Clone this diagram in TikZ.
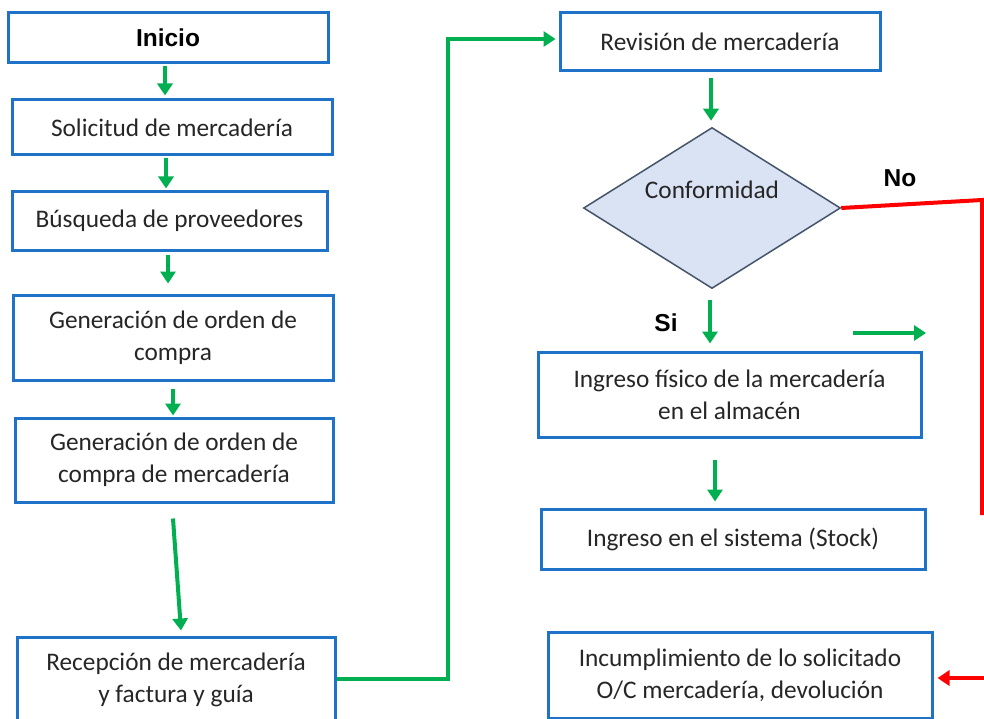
\documentclass[tikz,border=0pt]{standalone}
\usepackage{fontspec}
\setmainfont{Carlito}
\newfontfamily\arialfont{Liberation Sans}
\usetikzlibrary{arrows.meta,shapes.geometric}
\definecolor{boxblue}{HTML}{1E73C8}
\definecolor{flowgreen}{HTML}{00B050}
\definecolor{flowred}{HTML}{FF0000}
\definecolor{diafill}{HTML}{DAE3F3}
\definecolor{diaedge}{HTML}{44546A}
\definecolor{txt}{HTML}{262626}
\begin{document}
\begin{tikzpicture}[x=1pt,y=-1pt,
  bodyfont/.style={font=\fontsize{25.3}{32}\selectfont, text=txt},
  boldfont/.style={font=\arialfont\bfseries\fontsize{24.5}{30}\selectfont, text=black},
  procbox/.style={draw=boxblue, line width=3pt, fill=white, rectangle, align=center, inner sep=0pt, bodyfont},
  decision/.style={draw=diaedge, line width=1.5pt, fill=diafill, diamond, inner sep=0pt},
  garrow/.style={draw=flowgreen, line width=4pt, -{Triangle[width=15pt,length=12pt]}},
  rline/.style={draw=flowred, line width=4pt},
  rarrow/.style={draw=flowred, line width=4pt, -{Triangle[width=15pt,length=12pt]}}
]
\useasboundingbox[fill=white] (0,0) rectangle (984,719);

% left column
\node[procbox, minimum width=320pt, minimum height=50pt, boldfont] (ini) at (168,38) {Inicio};
\node[procbox, minimum width=320pt, minimum height=55pt] (sol) at (172,127.5) {Solicitud de mercadería};
\node[procbox, minimum width=315pt, minimum height=58pt] (bus) at (169.5,221) {Búsqueda de proveedores};
\node[procbox, minimum width=320pt, minimum height=85pt] (gen) at (173,337.5) {Generación de orden de\\compra};
\node[procbox, minimum width=318pt, minimum height=84pt] (gen2) at (174,460) {Generación de orden de\\compra de mercadería};
\node[procbox, minimum width=318pt, minimum height=86pt] (rec) at (176,680) {Recepción de mercadería\\y factura y guía};

% right column
\node[procbox, minimum width=320pt, minimum height=58pt] (rev) at (720,42) {Revisión de mercadería};
\node[decision, minimum width=257pt, minimum height=161pt,
      label={[bodyfont, yshift=18pt]center:Conformidad}] (dia) at (712,208) {};
\node[procbox, minimum width=383pt, minimum height=85pt] (ing) at (729.5,394.5) {Ingreso físico de la mercadería\\en el almacén};
\node[procbox, minimum width=384pt, minimum height=60pt] (sis) at (733,539) {Ingreso en el sistema (Stock)};
\node[procbox, minimum width=384pt, minimum height=86pt] (inc) at (740,675) {Incumplimiento de lo solicitado\\O/C mercadería, devolución};

% labels
\node[boldfont] (nolbl) at (900,178) {No};
\node[boldfont] (silbl) at (666,323) {Si};

% green connectors
\draw[garrow] ([xshift=-3pt,yshift=-2pt]ini.south) -- ([xshift=-7pt,yshift=3pt]sol.north);
\draw[garrow] ([xshift=-6pt,yshift=-2pt]sol.south) -- ([xshift=-3.5pt,yshift=2pt]bus.north);
\draw[garrow] ([xshift=-1.5pt,yshift=-3pt]bus.south) -- ([xshift=-5pt,yshift=10pt]gen.north);
\draw[garrow] ([yshift=-7pt]gen.south) -- ([xshift=-1pt,yshift=1pt]gen2.north);
\draw[garrow] ([xshift=-1pt,yshift=-15pt]gen2.south) -- ([xshift=5pt,yshift=5pt]rec.north);
\draw[garrow] ([yshift=1pt]rec.east) -- ++(111,0) |- ([xshift=-3pt,yshift=3pt]rev.west);
\draw[garrow] ([xshift=-9pt,yshift=-6pt]rev.south) -- ([xshift=-1pt,yshift=6pt]dia.north);
\draw[garrow] ([xshift=-2pt,yshift=-11pt]dia.south) -- ([xshift=-19.5pt,yshift=7pt]ing.north);
\draw[garrow] ([xshift=-14.5pt,yshift=-21pt]ing.south) -- ([xshift=-18pt,yshift=6pt]sis.north);
\coordinate (fa) at (853,333);
\coordinate (fb) at (926,333);
\draw[garrow] (fa) -- (fb);

% red connectors
\coordinate (rc) at (982,200);
\coordinate (rd) at (982,515);
\draw[rline, line join=miter] (dia.east) -- (rc) -- (rd);
\coordinate (re) at (986,678);
\draw[rarrow] (re) -- ([xshift=4pt,yshift=-3pt]inc.east);
\end{tikzpicture}
\end{document}
